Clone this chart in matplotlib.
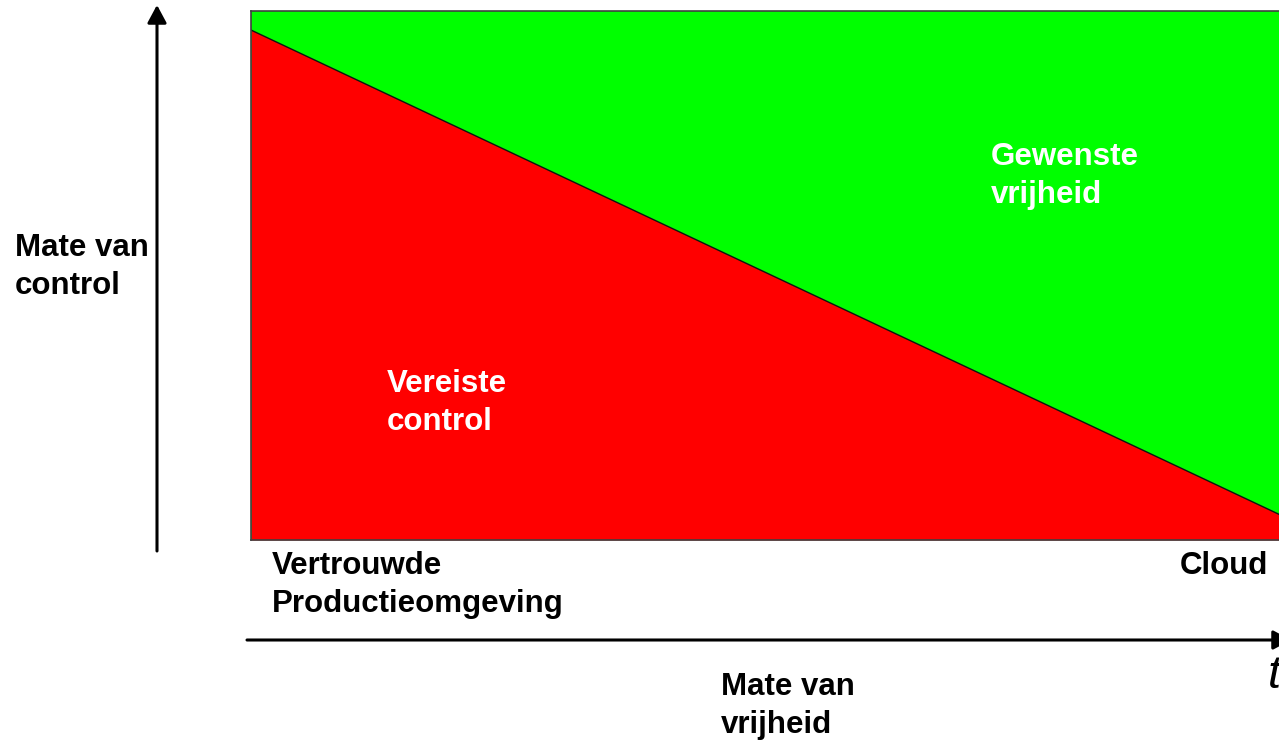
import matplotlib
matplotlib.use("Agg")
import matplotlib.pyplot as plt
import numpy as np

# Data
positions = [0.0, 1.0]                 # Vertrouwde Productieomgeving -> Cloud
required_control = [0.964, 0.045]      # fraction of control required
x_labels = ["Vertrouwde\nProductieomgeving", "Cloud"]
y_axis_label = "Mate van\ncontrol"
x_axis_label = "Mate van\nvrijheid"
area_labels = ["Vereiste\ncontrol", "Gewenste\nvrijheid"]

W, H = 1279, 743
fig = plt.figure(figsize=(W / 100, H / 100), dpi=100)
plt.rcParams['font.family'] = ['Liberation Sans', 'DejaVu Sans']

def fx(px):
    return px / W

def fy(py):
    return 1 - py / H

# main box axes (pixel 251..1283 horizontally, 11..540 vertically)
left, right, top, bottom = 251, 1283, 11, 540
ax = fig.add_axes([fx(left), fy(bottom), fx(right - left), (bottom - top) / H])
ax.set_xlim(0, 1)
ax.set_ylim(0, 1)
ax.set_facecolor("#00FF00")
ax.fill_between(positions, 0, required_control, color="#FF0000", lw=0)
ax.plot(positions, required_control, color="#101010", lw=1.0)
for s in ax.spines.values():
    s.set_color("#404040")
    s.set_linewidth(1.2)
ax.set_xticks([])
ax.set_yticks([])

fs = 22.5
ls = 1.36
ax.text(0.717, 0.688, area_labels[1], color="white", fontsize=fs, fontweight="bold",
        ha="left", va="center", linespacing=ls, transform=ax.transAxes)
ax.text(0.132, 0.259, area_labels[0], color="white", fontsize=fs, fontweight="bold",
        ha="left", va="center", linespacing=ls, transform=ax.transAxes)

# Overlay axes for arrows/labels in figure pixel space
ov = fig.add_axes([0, 0, 1, 1], facecolor="none")
ov.set_xlim(0, W)
ov.set_ylim(H, 0)
ov.axis("off")

astyle = "-|>,head_length=1.08,head_width=0.58"
# vertical arrow
ov.annotate("", xy=(157, 5), xytext=(157, 551), annotation_clip=False,
            arrowprops=dict(arrowstyle=astyle, color="black", lw=2.2,
                            shrinkA=0, shrinkB=0))
# horizontal arrow
ov.annotate("", xy=(1291, 640), xytext=(247, 640), annotation_clip=False,
            arrowprops=dict(arrowstyle=astyle, color="black", lw=2.2,
                            shrinkA=0, shrinkB=0))

ov.text(15, 267, y_axis_label, fontsize=fs, fontweight="bold", ha="left",
        va="center", linespacing=ls)
ov.text(272, 585, x_labels[0], fontsize=fs, fontweight="bold", ha="left",
        va="center", linespacing=ls)
ov.text(1268, 566, x_labels[1], fontsize=fs, fontweight="bold", ha="right",
        va="center")
ov.text(721, 706, x_axis_label, fontsize=fs, fontweight="bold", ha="left",
        va="center", linespacing=ls)
ov.text(1268, 676, "t", fontsize=34, fontstyle="italic", ha="left", va="center")

fig.savefig("out.png", dpi=100)
